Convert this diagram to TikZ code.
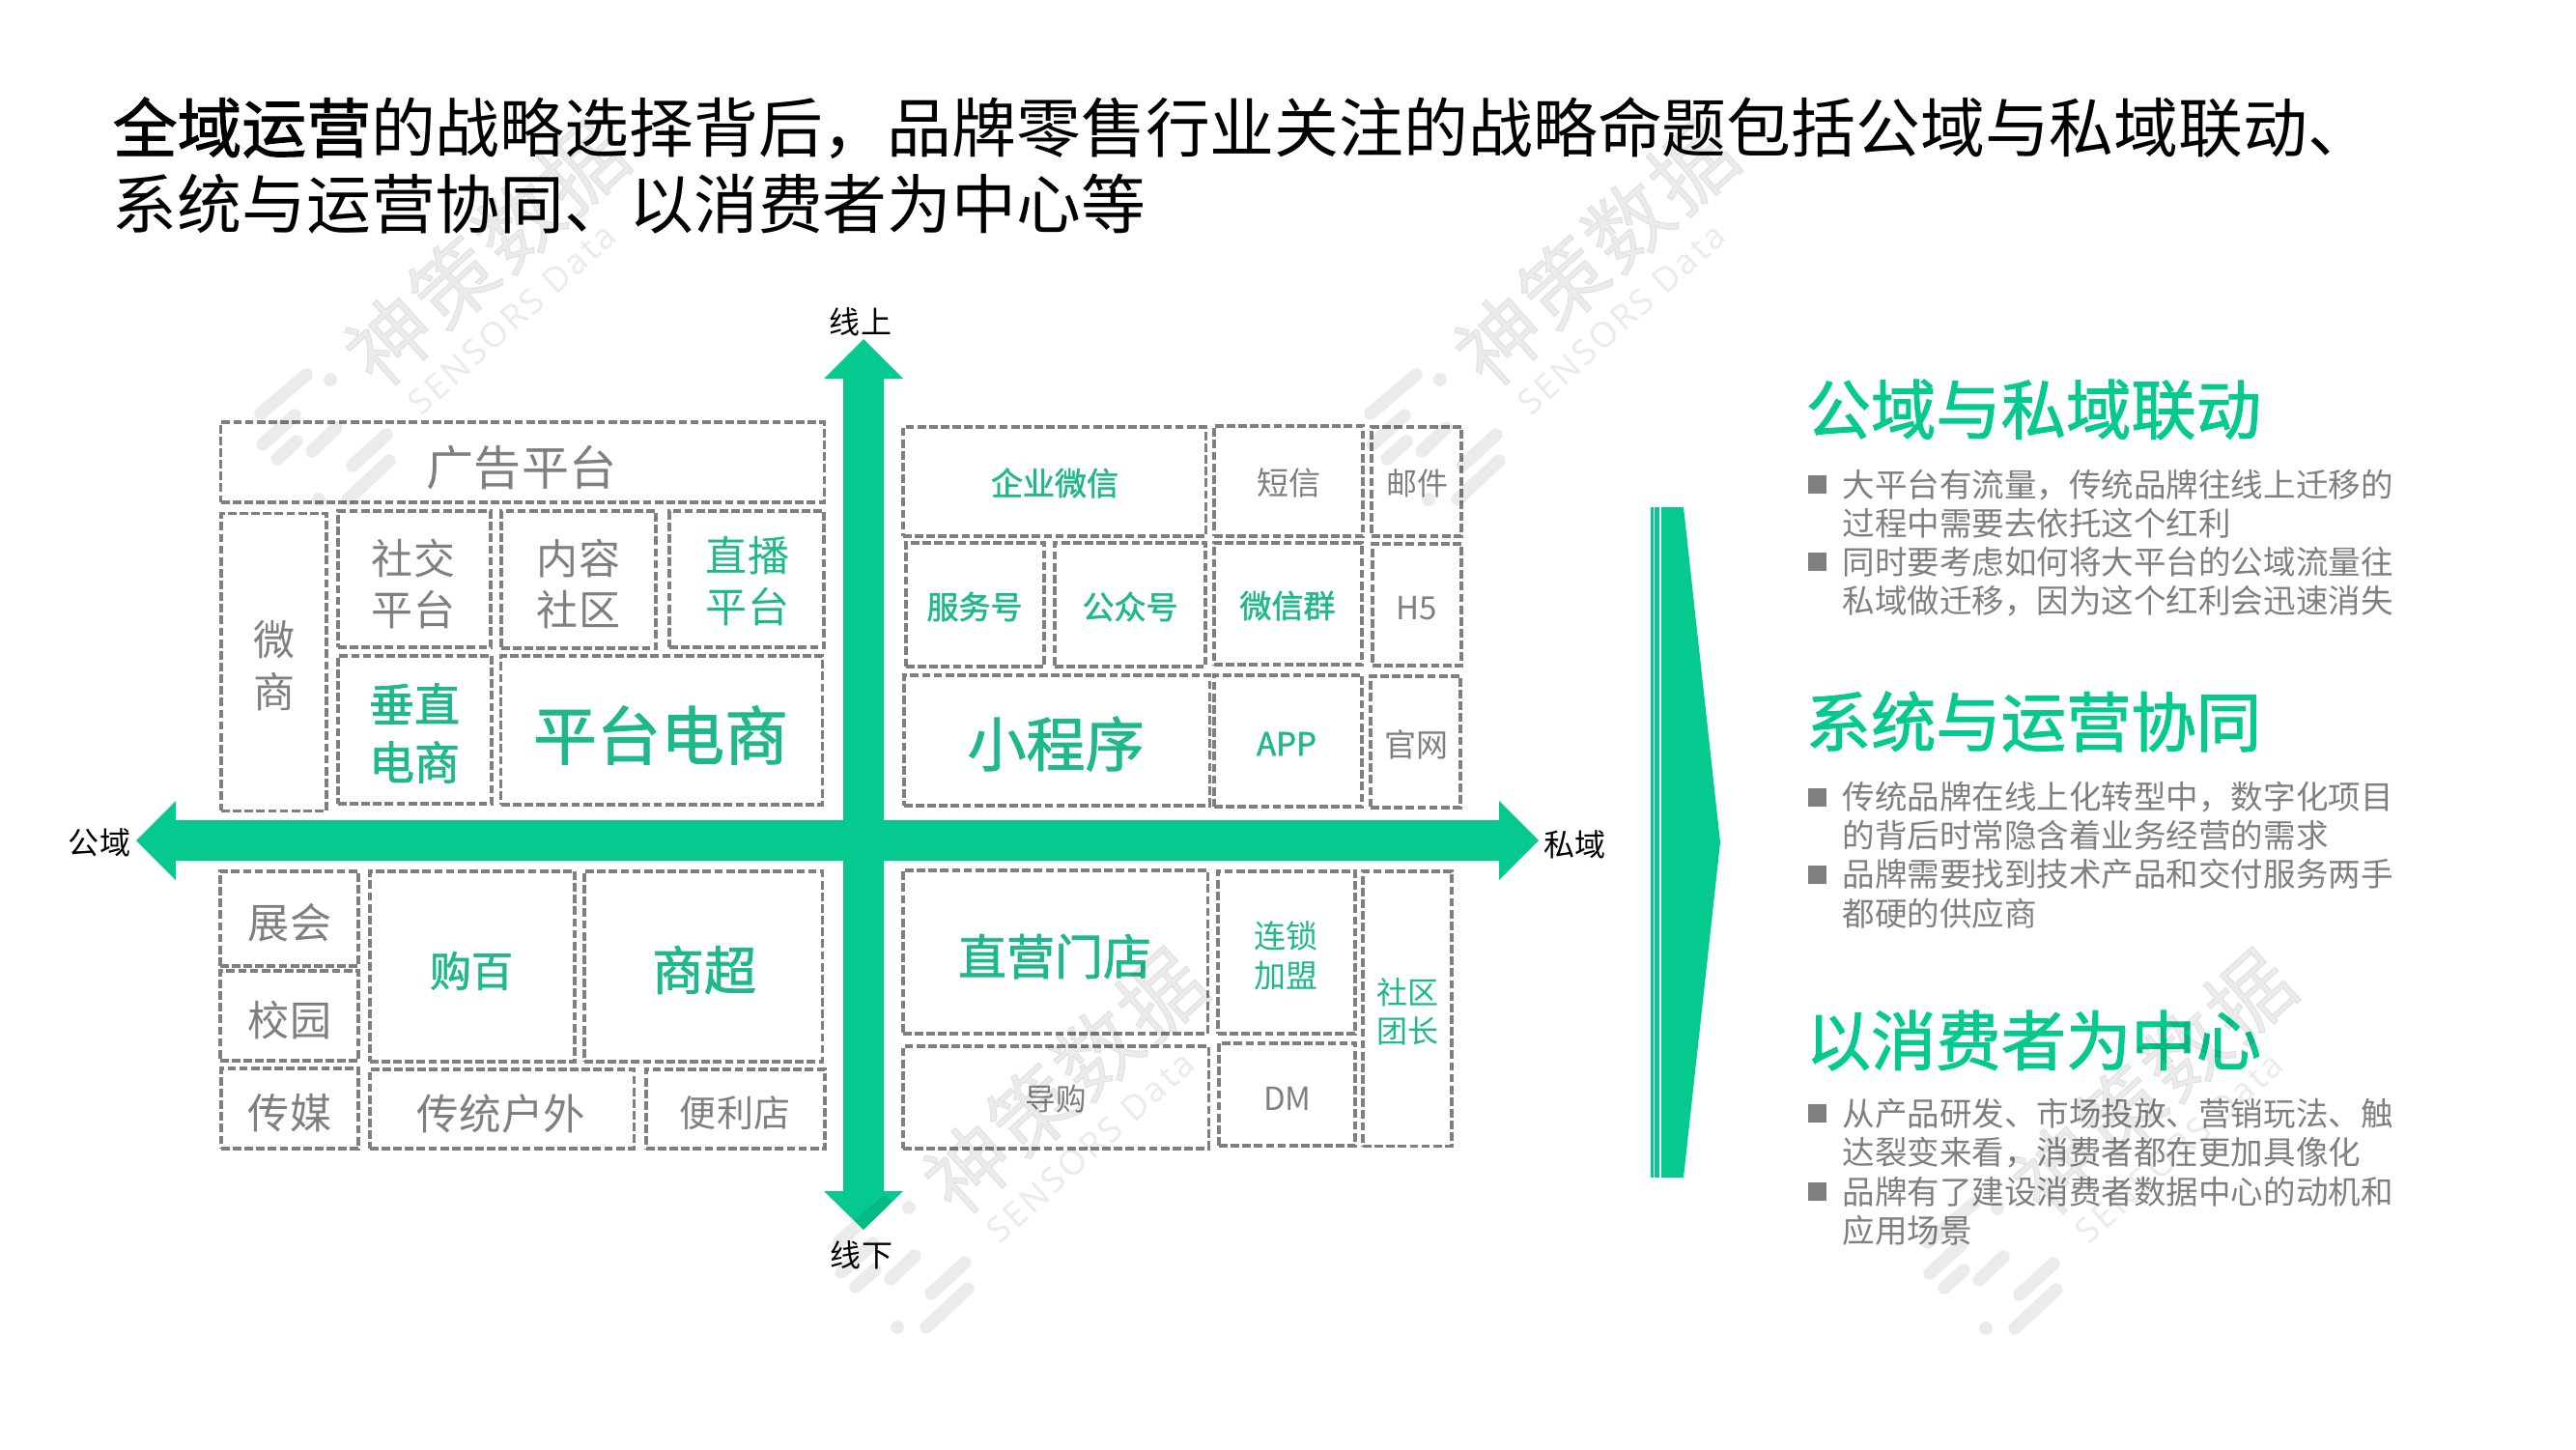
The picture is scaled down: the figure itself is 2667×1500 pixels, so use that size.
\documentclass[tikz,border=0pt]{standalone}
\usepackage{fontspec}
\setmainfont{Noto Sans CJK SC}
\newfontfamily\medfont[FakeBold=1.5]{Noto Sans CJK SC}
\newfontfamily\wmfont[LetterSpace=4,FakeBold=1]{Noto Sans CJK SC}
\newfontfamily\wmlatin[LetterSpace=8]{Noto Sans}
\definecolor{brand}{HTML}{05C98F}
\definecolor{gtext}{HTML}{1FB88C}
\definecolor{graytx}{HTML}{7F7F7F}
\newcommand\pxf[2]{\fontsize{\fpeval{#1*0.28453}}{\fpeval{#2*0.28453}}\selectfont}
\newcommand\cellbox[5]{\node[cell,minimum width=\fpeval{(#4-#2)*0.01}cm,minimum height=\fpeval{(#5-#3)*0.01}cm] (#1) at (\fpeval{(#2+#4)/2},\fpeval{(#3+#5)/2}) {};}
\newcommand\wmark[3]{%
\begin{scope}[shift={(#2,#3)},black,opacity=0.08]
\fill (342,393) circle (7);
\fill (330,517) circle (7);
\draw[wbar] (270,428) -- (317,388);
\draw[wbar] (272,460) -- (305,430);
\draw[wbar] (287,475) -- (307,457);
\draw[wbar] (323,467) -- (348,443);
\draw[wbar] (365,482) -- (400,450);
\draw[wbar] (360,517) -- (403,477);
\node[rotate=42,inner sep=0,font=\wmfont\pxf{86}{86}] (#1a) at (503,262) {神策数据};
\node[rotate=42,inner sep=0,font=\wmlatin\pxf{36}{36}] (#1b) at (530,330) {SENSORS Data};
\end{scope}}
\tikzset{
  cell/.style={draw=graytx,line width=.9pt,dash pattern=on 2.5pt off 0.95pt,inner sep=0,rectangle},
  gt/.style={text=graytx,inner sep=0,align=center},
  lg/.style={text=gtext,inner sep=0,align=center},
  bl/.style={text=black,inner sep=0},
  wbar/.style={line width=3.8pt,line cap=round},
  bul/.style={fill=graytx,minimum size=0.19cm,inner sep=0,rectangle},
  body/.style={text=graytx,inner sep=0,anchor=west,align=left,font=\pxf{33.5}{40.5}},
  hd/.style={text=brand,inner sep=0,anchor=west,font=\medfont\pxf{67.3}{67.3}},
}
\begin{document}
\begin{tikzpicture}[x=0.01cm,y=-0.01cm]
\useasboundingbox (0,0) rectangle (2667,1500);
\fill[white] (0,0) rectangle (2667,1500);
% title
\node[inner sep=0,anchor=west,text=black,align=left,font=\pxf{66.8}{79}] (title) at (116,171.5) {{\medfont 全域运营}的战略选择背后，品牌零售行业关注的战略命题包括公域与私域联动、\\系统与运营协同、以消费者为中心等};
% axes
\fill[brand] (894,351) -- (935,392) -- (915,392) -- (915,849) -- (1552,849) -- (1552,829) -- (1593,870) -- (1552,911) -- (1552,891) -- (915,891) -- (915,1233) -- (935,1233) -- (894,1273) -- (853,1233) -- (873,1233) -- (873,891) -- (182,891) -- (182,911) -- (141,870) -- (182,829) -- (182,849) -- (873,849) -- (873,392) -- (853,392) -- cycle;
\node[bl,font=\pxf{32}{32}] (up) at (891,333) {线上};
\node[bl,font=\pxf{32}{32}] (down) at (892,1299) {线下};
\node[bl,font=\pxf{32}{32}] (left) at (103,872) {公域};
\node[bl,font=\pxf{32}{32}] (right) at (1630,874) {私域};
% top-left
\cellbox{a1}{229}{437}{853}{520}
\cellbox{a2}{229}{532}{338}{839}
\cellbox{a3}{350}{529}{508}{670}
\cellbox{a4}{519}{529}{679}{671}
\cellbox{a5}{693}{529}{853}{670}
\cellbox{a6}{350}{679}{509}{832}
\cellbox{a7}{519}{679}{851}{833}
\node[gt,font=\pxf{49}{49}] (ta1) at (540,484) {广告平台};
\node[gt,font=\pxf{43}{54}] (ta2) at (284,689) {微\\商};
\node[gt,font=\pxf{43}{53}] (ta3) at (428,604) {社交\\平台};
\node[gt,font=\pxf{43}{53}] (ta4) at (599,604) {内容\\社区};
\node[lg,font=\pxf{43}{53}] (ta5) at (774,602) {直播\\平台};
\node[lg,font=\medfont\pxf{47}{60}] (ta6) at (429,759) {垂直\\电商};
\node[lg,font=\medfont\pxf{66}{66}] (ta7) at (684,761) {平台电商};
% top-right
\cellbox{b1}{935}{442}{1248}{555}
\cellbox{b2}{1257}{441}{1411}{555}
\cellbox{b3}{1420}{442}{1513}{555}
\cellbox{b4}{938}{562}{1081}{690}
\cellbox{b5}{1092}{562}{1248}{690}
\cellbox{b6}{1257}{562}{1410}{688}
\cellbox{b7}{1421}{563}{1513}{689}
\cellbox{b8}{936}{699}{1252}{834}
\cellbox{b9}{1257}{699}{1410}{835}
\cellbox{b10}{1419}{700}{1512}{836}
\node[lg,font=\medfont\pxf{33}{33}] (tb1) at (1092,500) {企业微信};
\node[gt,font=\pxf{33}{33}] (tb2) at (1334,500) {短信};
\node[gt,font=\pxf{32}{32}] (tb3) at (1467,500) {邮件};
\node[lg,font=\medfont\pxf{33}{33}] (tb4) at (1009,628) {服务号};
\node[lg,font=\medfont\pxf{33}{33}] (tb5) at (1170,628) {公众号};
\node[lg,font=\medfont\pxf{33}{33}] (tb6) at (1333,627) {微信群};
\node[gt,font=\pxf{33}{33}] (tb7) at (1467,630) {H5};
\node[lg,font=\medfont\pxf{61}{61}] (tb8) at (1093,770) {小程序};
\node[lg,font=\medfont\pxf{33}{33}] (tb9) at (1332,770) {APP};
\node[gt,font=\pxf{33}{33}] (tb10) at (1466,771) {官网};
% bottom-left
\cellbox{c1}{228}{902}{371}{1000}
\cellbox{c2}{228}{1005}{371}{1098}
\cellbox{c3}{229}{1106}{371}{1189}
\cellbox{c4}{383}{902}{595}{1099}
\cellbox{c5}{605}{902}{851}{1099}
\cellbox{c6}{383}{1107}{656}{1189}
\cellbox{c7}{669}{1107}{854}{1189}
\node[gt,font=\pxf{43}{43}] (tc1) at (300,955) {展会};
\node[gt,font=\pxf{43}{43}] (tc2) at (300,1056) {校园};
\node[gt,font=\pxf{43}{43}] (tc3) at (300,1152) {传媒};
\node[lg,font=\medfont\pxf{43}{43}] (tc4) at (488,1005) {购百};
\node[lg,font=\medfont\pxf{54}{54}] (tc5) at (729,1004) {商超};
\node[gt,font=\pxf{43.5}{43.5}] (tc6) at (519,1153) {传统户外};
\node[gt,font=\pxf{38}{38}] (tc7) at (761,1152) {便利店};
% bottom-right
\cellbox{d1}{935}{901}{1250}{1070}
\cellbox{d2}{935}{1083}{1251}{1189}
\cellbox{d3}{1261}{902}{1403}{1070}
\cellbox{d4}{1262}{1080}{1403}{1186}
\cellbox{d5}{1411}{902}{1503}{1186}
\node[lg,font=\medfont\pxf{50}{50}] (td1) at (1092,990) {直营门店};
\node[gt,font=\pxf{31.5}{31.5}] (td2) at (1093,1138) {导购};
\node[lg,font=\pxf{33}{41}] (td3) at (1331,989.5) {连锁\\加盟};
\node[gt,font=\pxf{33}{33}] (td4) at (1333,1137) {DM};
\node[lg,font=\pxf{32}{40}] (td5) at (1457,1047) {社区\\团长};
% big arrow
\fill[brand] (1709,525) rectangle (1711.7,1219);
\fill[brand] (1713.3,525) rectangle (1718,1219);
\fill[brand] (1720,525) -- (1743,525) -- (1781,872) -- (1743,1219) -- (1720,1219) -- cycle;
% right column
\node[hd] (h1) at (1869,424) {公域与私域联动};
\node[bul] (k1) at (1881.5,501.5) {};
\node[bul] (k2) at (1881.5,581.5) {};
\node[body] (p1) at (1907,521.5) {大平台有流量，传统品牌往线上迁移的\\过程中需要去依托这个红利};
\node[body] (p2) at (1907,602) {同时要考虑如何将大平台的公域流量往\\私域做迁移，因为这个红利会迅速消失};
\node[hd] (h2) at (1869,747) {系统与运营协同};
\node[bul] (k3) at (1881.5,825) {};
\node[bul] (k4) at (1881.5,905) {};
\node[body] (p3) at (1907,844.5) {传统品牌在线上化转型中，数字化项目\\的背后时常隐含着业务经营的需求};
\node[body] (p4) at (1907,925) {品牌需要找到技术产品和交付服务两手\\都硬的供应商};
\node[hd] (h3) at (1869,1077) {以消费者为中心};
\node[bul] (k5) at (1881.5,1152.5) {};
\node[bul] (k6) at (1881.5,1233.5) {};
\node[body] (p5) at (1907,1173) {从产品研发、市场投放、营销玩法、触\\达裂变来看，消费者都在更加具像化};
\node[body] (p6) at (1907,1254) {品牌有了建设消费者数据中心的动机和\\应用场景};
% watermarks
\wmark{w1}{0}{0}
\wmark{w2}{1149}{0}
\wmark{w3}{599}{857}
\wmark{w4}{1726}{858}
\end{tikzpicture}
\end{document}
